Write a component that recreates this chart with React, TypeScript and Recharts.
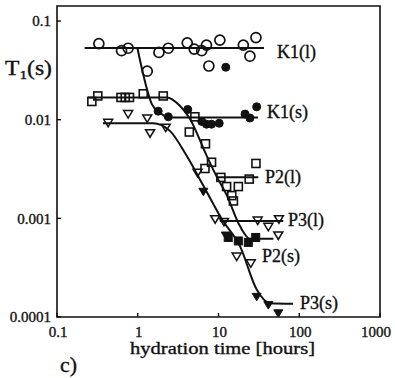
import React from 'react';
import { ScatterChart, Scatter, XAxis, YAxis, ReferenceArea, ReferenceDot } from 'recharts';

const FONT = '"Liberation Serif", "Times New Roman", serif';

const xTicks = [0.1, 1, 10, 100, 1000];
const yTicks = [0.0001, 0.001, 0.01, 0.1];

// K1(l): open circles
const k1lPoints = [
  { x: 0.33, y: 0.059 }, { x: 0.63, y: 0.05 }, { x: 0.76, y: 0.053 }, { x: 1.31, y: 0.031 },
  { x: 1.83, y: 0.048 }, { x: 2.39, y: 0.053 }, { x: 4.1, y: 0.06 }, { x: 5.0, y: 0.052 },
  { x: 6.2, y: 0.05 }, { x: 7.1, y: 0.057 }, { x: 7.6, y: 0.035 }, { x: 10.4, y: 0.064 },
  { x: 20.3, y: 0.057 }, { x: 24.5, y: 0.044 }, { x: 29.1, y: 0.068 },
];
// K1(s): filled circles
const k1sPoints = [
  { x: 1.79, y: 0.0122 }, { x: 2.39, y: 0.0107 }, { x: 4.16, y: 0.0127 }, { x: 6.2, y: 0.0096 },
  { x: 7.1, y: 0.009 }, { x: 8.2, y: 0.009 }, { x: 10.2, y: 0.0092 }, { x: 12.3, y: 0.034 },
  { x: 21.3, y: 0.0114 }, { x: 24.5, y: 0.0104 }, { x: 29.7, y: 0.0135 },
];
// P2(l): open squares
const p2lPoints = [
  { x: 0.27, y: 0.0153 }, { x: 0.32, y: 0.0174 }, { x: 0.62, y: 0.0168 }, { x: 0.7, y: 0.0168 },
  { x: 0.79, y: 0.0168 }, { x: 1.17, y: 0.0183 }, { x: 2.07, y: 0.0174 }, { x: 4.35, y: 0.0075 },
  { x: 5.1, y: 0.0107 }, { x: 6.8, y: 0.0032 }, { x: 6.9, y: 0.0057 }, { x: 8.2, y: 0.0037 },
  { x: 10.7, y: 0.0026 }, { x: 12.6, y: 0.0021 }, { x: 14.6, y: 0.0017 }, { x: 15.3, y: 0.0015 },
  { x: 17.6, y: 0.0021 }, { x: 24.0, y: 0.0025 }, { x: 29.1, y: 0.0036 },
];
// P2(s): filled squares
const p2sPoints = [
  { x: 13.2, y: 0.00064 }, { x: 17.6, y: 0.00059 }, { x: 23.4, y: 0.00057 }, { x: 28.9, y: 0.00064 },
];
// P3(l): open down triangles
const p3lPoints = [
  { x: 0.43, y: 0.0093 }, { x: 0.76, y: 0.0114 }, { x: 1.31, y: 0.0103 }, { x: 1.42, y: 0.0073 },
  { x: 2.22, y: 0.0083 }, { x: 5.5, y: 0.0029 }, { x: 9.1, y: 0.00098 }, { x: 11.7, y: 0.00092 },
  { x: 16.8, y: 0.00041 }, { x: 25.1, y: 0.00035 }, { x: 30.6, y: 0.00095 }, { x: 41.4, y: 0.00082 },
  { x: 55, y: 0.00067 }, { x: 56, y: 0.00098 },
];
// P3(s): filled down triangles
const p3sPoints = [
  { x: 6.5, y: 0.00186 }, { x: 12.3, y: 0.00067 }, { x: 29.7, y: 0.00016 }, { x: 41.4, y: 0.000132 },
  { x: 55, y: 0.000109 },
];

// fitted curves
const k1lFit = [{ x: 0.22, y: 0.0532 }, { x: 36.6, y: 0.0532 }];
const k1sFit = [
  { x: 0.99, y: 0.0532 }, { x: 1.5, y: 0.0143 }, { x: 1.9, y: 0.0117 }, { x: 2.5, y: 0.0105 }, { x: 30.8, y: 0.0105 },
];
const p2Fit = [
  { x: 0.24, y: 0.0168 }, { x: 2.3, y: 0.0168 }, { x: 3.3, y: 0.0139 }, { x: 4.4, y: 0.0103 },
  { x: 7.1, y: 0.00435 }, { x: 9.5, y: 0.00265 }, { x: 12.6, y: 0.00173 }, { x: 18.5, y: 0.00083 },
  { x: 24.5, y: 0.00062 }, { x: 47.8, y: 0.00062 },
];
const p2lFit = [{ x: 9.5, y: 0.00261 }, { x: 31.1, y: 0.00261 }];
const p3Fit = [
  { x: 0.37, y: 0.0092 }, { x: 1.55, y: 0.0092 }, { x: 2.5, y: 0.0077 }, { x: 4.0, y: 0.00435 },
  { x: 6.5, y: 0.00214 }, { x: 11.0, y: 0.00098 }, { x: 18.5, y: 0.00052 }, { x: 29.7, y: 0.00019 },
  { x: 43.4, y: 0.000138 }, { x: 83.8, y: 0.000136 },
];
const p3lFit = [{ x: 10.4, y: 0.00094 }, { x: 63.4, y: 0.00094 }];

const seriesLabels = [
  { name: 'K1(l)', x: 53, y: 0.0489 },
  { name: 'K1(s)', x: 39.9, y: 0.012 },
  { name: 'P2(l)', x: 37.7, y: 0.00267 },
  { name: 'P3(l)', x: 72.6, y: 0.000977 },
  { name: 'P2(s)', x: 34.6, y: 0.000419 },
  { name: 'P3(s)', x: 102, y: 0.000139 },
];

const INK = '#111';
const TXT = { fontFamily: FONT, fill: INK, stroke: INK, strokeWidth: 0.35 };

const OpenCircle = (p: any) => <circle cx={p.cx} cy={p.cy} r={5} fill="none" stroke={INK} strokeWidth={1.7} />;
const FilledCircle = (p: any) => <circle cx={p.cx} cy={p.cy} r={4} fill={INK} stroke={INK} strokeWidth={1} />;
const OpenSquare = (p: any) => (
  <rect x={p.cx - 4} y={p.cy - 4} width={8} height={8} fill="none" stroke={INK} strokeWidth={1.6} />
);
const FilledSquare = (p: any) => (
  <rect x={p.cx - 4} y={p.cy - 4} width={8} height={8} fill={INK} stroke={INK} strokeWidth={1} />
);
const triPath = (cx: number, cy: number) => `M${cx - 4.5},${cy - 3.5} L${cx + 4.5},${cy - 3.5} L${cx},${cy + 4} Z`;
const OpenTri = (p: any) => <path d={triPath(p.cx, p.cy)} fill="none" stroke={INK} strokeWidth={1.5} />;
const FilledTri = (p: any) => <path d={triPath(p.cx, p.cy)} fill={INK} stroke={INK} strokeWidth={1} />;
const NoShape = () => <g />;

const XTick = (props: any) => {
  const { x, y, payload, index } = props;
  const shift = payload.value >= 1000 ? -4 : 1;
  return (
    <g>
      <line x1={x} x2={x} y1={y} y2={y - 4} stroke={INK} strokeWidth={1.4} />
      <text x={x + shift} y={y + 20} textAnchor="middle" fontSize={15} {...TXT}>
        {String(payload.value)}
      </text>
    </g>
  );
};

const YTick = (props: any) => {
  const { x, y, payload } = props;
  return (
    <g>
      <line x1={x} x2={x + 4} y1={y} y2={y} stroke={INK} strokeWidth={1.4} />
      <text x={x - 6} y={y} dy="0.35em" textAnchor="end" fontSize={15} {...TXT}>
        {String(payload.value)}
      </text>
    </g>
  );
};

const lineStyle = { stroke: INK, strokeWidth: 2 };

export default function App() {
  return (
    <div style={{ position: 'absolute', left: 0, top: 0, width: 395, height: 378, background: '#fff' }}>
      <ScatterChart width={395} height={378} margin={{ top: 6, right: 15, left: 0, bottom: 0 }}>
        <XAxis
          type="number"
          dataKey="x"
          scale="log"
          domain={[0.1, 1000]}
          ticks={xTicks}
          allowDataOverflow
          axisLine={false}
          tickLine={false}
          tickSize={0}
          tickMargin={0}
          height={61}
          tick={<XTick />}
          interval={0}
          label={{
            content: () => (
              <g {...TXT}>
                <text x={130} y={354} fontSize={17} textLength={185} lengthAdjust="spacingAndGlyphs">
                  hydration time [hours]
                </text>
                <text x={60} y={372} fontSize={22}>c)</text>
              </g>
            ),
          }}
        />
        <YAxis
          type="number"
          dataKey="y"
          scale="log"
          domain={[0.0001, 0.142]}
          ticks={yTicks}
          allowDataOverflow
          axisLine={false}
          tickLine={false}
          tickSize={0}
          tickMargin={0}
          width={57}
          tick={<YTick />}
          interval={0}
          label={{
            content: () => (
              <text x={5} y={75} fontSize={20} textLength={47} lengthAdjust="spacingAndGlyphs" {...TXT}>
                <tspan>T</tspan>
                <tspan fontSize={13} dy={4}>1</tspan>
                <tspan dy={-4}>(s)</tspan>
              </text>
            ),
          }}
        />
        <ReferenceArea x1={0.1} x2={1000} y1={0.0001} y2={0.142} fill="none" stroke={INK} strokeWidth={1.6} ifOverflow="visible" />

        <Scatter data={k1lFit} line={lineStyle} lineType="joint" shape={NoShape} isAnimationActive={false} />
        <Scatter data={k1sFit} line={lineStyle} lineType="joint" lineJointType="monotoneX" shape={NoShape} isAnimationActive={false} />
        <Scatter data={p2Fit} line={lineStyle} lineType="joint" lineJointType="monotoneX" shape={NoShape} isAnimationActive={false} />
        <Scatter data={p2lFit} line={lineStyle} lineType="joint" shape={NoShape} isAnimationActive={false} />
        <Scatter data={p3Fit} line={lineStyle} lineType="joint" lineJointType="monotoneX" shape={NoShape} isAnimationActive={false} />
        <Scatter data={p3lFit} line={lineStyle} lineType="joint" shape={NoShape} isAnimationActive={false} />

        <Scatter data={k1lPoints} shape={OpenCircle} isAnimationActive={false} />
        <Scatter data={k1sPoints} shape={FilledCircle} isAnimationActive={false} />
        <Scatter data={p2lPoints} shape={OpenSquare} isAnimationActive={false} />
        <Scatter data={p2sPoints} shape={FilledSquare} isAnimationActive={false} />
        <Scatter data={p3lPoints} shape={OpenTri} isAnimationActive={false} />
        <Scatter data={p3sPoints} shape={FilledTri} isAnimationActive={false} />

        {seriesLabels.map((l) => (
          <ReferenceDot
            key={l.name}
            x={l.x}
            y={l.y}
            r={3}
            ifOverflow="visible"
            shape={(p: any) => (
              <text x={p.cx} y={p.cy} dy="0.35em" fontSize={18} {...TXT}>
                {l.name}
              </text>
            )}
          />
        ))}
      </ScatterChart>
    </div>
  );
}
